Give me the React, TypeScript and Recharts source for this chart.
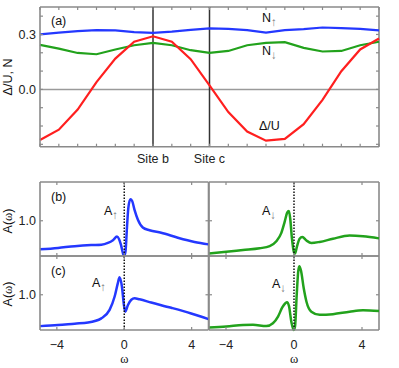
import React from "react";
import { LineChart, Line, XAxis, YAxis, ReferenceLine } from "recharts";

const FONT = "'Liberation Sans', Arial, Helvetica, sans-serif";
const SERIF = "'Liberation Serif', 'Times New Roman', serif";
const BORDER = "#8a8a8a";
const BLUE = "#2438ff";
const GREEN = "#22a21c";
const RED = "#ff1f1f";

// panel (a): quantities along the chain of sites
const siteIdx = [0, 1, 2, 3, 4, 5, 6, 7, 8, 9, 10, 11, 12, 13, 14, 15, 16, 17, 18];
const deltaU = [-0.276, -0.22, -0.11, 0.04, 0.168, 0.26, 0.29, 0.26, 0.165, 0.022, -0.124, -0.23, -0.28, -0.27, -0.19, -0.057, 0.099, 0.218, 0.278];
const nUp = [0.3, 0.31, 0.318, 0.324, 0.322, 0.313, 0.309, 0.315, 0.325, 0.333, 0.331, 0.324, 0.31, 0.324, 0.329, 0.338, 0.335, 0.331, 0.322];
const nDown = [0.243, 0.223, 0.199, 0.192, 0.218, 0.241, 0.254, 0.241, 0.214, 0.199, 0.21, 0.241, 0.254, 0.258, 0.227, 0.207, 0.21, 0.241, 0.26];
const siteLabels: Record<number, string> = { 6: "Site b", 9: "Site c" };
const yTicksA = [-0.3, -0.2, -0.1, 0, 0.1, 0.2, 0.3, 0.4];
const domainA: [number, number] = [-0.313, 0.45];

// panels (b), (c): spectral functions
const wTicks = [-4, 0, 4];
const aTicks = [1];
const domainW: [number, number] = [-5, 5];
const domainSpec: [number, number] = [0, 2.1];

const wBUp = [-5, -3.93, -2.94, -1.96, -1.36, -0.97, -0.67, -0.43, -0.3, -0.18, -0.04, 0.02, 0.08, 0.16, 0.24, 0.36, 0.47, 0.61, 0.81, 1.1, 1.5, 2.19, 3.18, 4.17, 5];
const aBUp = [0.19, 0.23, 0.28, 0.31, 0.32, 0.37, 0.45, 0.55, 0.47, 0.29, 0.03, 0.02, 0.15, 0.8, 1.35, 1.61, 1.56, 1.31, 1.03, 0.81, 0.73, 0.66, 0.52, 0.4, 0.33];

const wBDown = [-5, -3.98, -3, -2.02, -1.43, -1.04, -0.75, -0.55, -0.4, -0.3, -0.22, -0.12, 0, 0.06, 0.18, 0.33, 0.49, 0.73, 1.02, 1.51, 2.29, 3.27, 4.06, 5];
const aBDown = [0.07, 0.12, 0.17, 0.22, 0.28, 0.42, 0.65, 0.97, 1.23, 1.28, 1.05, 0.49, 0.1, 0.07, 0.28, 0.49, 0.54, 0.44, 0.37, 0.4, 0.49, 0.58, 0.56, 0.5];

const wCUp = [-5, -3.93, -2.94, -2.15, -1.36, -0.87, -0.57, -0.38, -0.28, -0.14, -0.02, 0.06, 0.22, 0.42, 0.61, 0.91, 1.6, 2.79, 3.97, 5];
const aCUp = [0.11, 0.14, 0.18, 0.21, 0.33, 0.57, 0.95, 1.33, 1.5, 1.24, 0.71, 0.52, 0.71, 0.86, 0.9, 0.87, 0.78, 0.63, 0.47, 0.31];

const wCDown = [-5, -3.98, -3, -2.41, -1.63, -1.24, -0.94, -0.69, -0.51, -0.41, -0.29, -0.16, -0.02, 0.06, 0.16, 0.25, 0.31, 0.41, 0.57, 0.73, 1.02, 1.51, 2.29, 3.27, 4.06, 5];
const aCDown = [0.07, 0.1, 0.14, 0.15, 0.11, 0.19, 0.38, 0.64, 0.76, 0.79, 0.67, 0.24, 0.0, 0.1, 1.0, 1.67, 1.81, 1.69, 1.19, 0.81, 0.52, 0.43, 0.45, 0.52, 0.56, 0.54];

// tick marks point into the plot on both opposite borders; label (if any) sits outside
function inTick(side: "left" | "bottom", margin: number, len: number, span: number, label?: (v: number) => string | null) {
  return (props: any) => {
    const { x, y, payload } = props;
    const text = label ? label(payload.value) : null;
    let l1: number[], l2: number[];
    if (side === "left") {
      const a = x + margin;
      const b = a + span;
      l1 = [a, y, a + len, y];
      l2 = [b, y, b - len, y];
    } else {
      const a = y - margin;
      const b = a - span;
      l1 = [x, a, x, a - len];
      l2 = [x, b, x, b + len];
    }
    return (
      <g>
        <line x1={l1[0]} y1={l1[1]} x2={l1[2]} y2={l1[3]} stroke={BORDER} strokeWidth={1.2} />
        <line x1={l2[0]} y1={l2[1]} x2={l2[2]} y2={l2[3]} stroke={BORDER} strokeWidth={1.2} />
        {text && (
          <text x={x} y={y} dy={side === "left" ? "0.355em" : "0.71em"} textAnchor={side === "left" ? "end" : "middle"}
            fontSize={12.5} fontFamily={FONT} fill="#222">
            {text}
          </text>
        )}
      </g>
    );
  };
}

const axisLine = { stroke: BORDER, strokeWidth: 1.6 };
const fmtA = (v: number) => (Math.abs(v - 0.3) < 1e-9 ? "0.3" : Math.abs(v) < 1e-9 ? "0.0" : null);
const fmtW = (v: number) => (v < 0 ? "\u2212" + Math.abs(v) : String(v));
const fmtOne = () => "1.0";

function PanelA() {
  const data = siteIdx.map((i, k) => ({ i, d: deltaU[k], up: nUp[k], dn: nDown[k] }));
  const W = 399, H = 175, top = 7, right = 20, left = 40, bottom = 28.3;
  const plotW = W - left - right;
  const plotH = H - top - bottom;
  return (
    <div style={{ position: "absolute", left: 0, top: 0 }}>
      <LineChart width={W} height={H} data={data} margin={{ top, right, bottom: 0, left: 0 }}>
        <XAxis dataKey="i" type="number" domain={[0, 18]} ticks={siteIdx} interval={0} height={bottom}
          tickSize={0} tickMargin={7} tickLine={false} axisLine={axisLine}
          tick={inTick("bottom", 7, 3, plotH, (v) => siteLabels[v] ?? null)} />
        <YAxis type="number" domain={domainA} ticks={yTicksA} interval={0} width={left}
          tickSize={0} tickMargin={4} tickLine={false} axisLine={axisLine} tick={inTick("left", 4, 3, plotW, fmtA)} />
        <ReferenceLine y={domainA[1]} stroke={BORDER} strokeWidth={1.6} />
        <ReferenceLine x={18} stroke={BORDER} strokeWidth={1.6} />
        <ReferenceLine y={0} stroke="#9a9a9a" strokeWidth={1.5} />
        <ReferenceLine x={6} stroke="#333" strokeWidth={1.5} />
        <ReferenceLine x={9} stroke="#333" strokeWidth={1.5} />
        <Line type="linear" dataKey="up" stroke={BLUE} strokeWidth={2.2} dot={false} isAnimationActive={false} />
        <Line type="linear" dataKey="dn" stroke={GREEN} strokeWidth={2.2} dot={false} isAnimationActive={false} />
        <Line type="linear" dataKey="d" stroke={RED} strokeWidth={2.2} dot={false} isAnimationActive={false} />
      </LineChart>
    </div>
  );
}

interface SpecProps {
  w: number[];
  a: number[];
  color: string;
  left: number;
  top: number;
  width: number;
  height: number;
  yLabels?: boolean;
  xLabels?: boolean;
}

function SpecPanel({ w, a, color, left, top, width, height, yLabels, xLabels }: SpecProps) {
  const data = w.map((v, i) => ({ w: v, a: a[i] }));
  const L = 40, R = 10, T = 10, B = 40;
  return (
    <div style={{ position: "absolute", left: left - L, top: top - T }}>
      <LineChart width={width + L + R} height={height + T + B} data={data} margin={{ top: T, right: R, bottom: 0, left: 0 }}>
        <XAxis dataKey="w" type="number" domain={domainW} ticks={wTicks} interval={0} height={B}
          tickSize={0} tickMargin={10.5} tickLine={false} axisLine={axisLine}
          tick={inTick("bottom", 10.5, 3, height, xLabels ? fmtW : undefined)} />
        <YAxis type="number" domain={domainSpec} ticks={aTicks} interval={0} width={L}
          tickSize={0} tickMargin={4} tickLine={false} axisLine={axisLine}
          tick={inTick("left", 4, 3, width, yLabels ? fmtOne : undefined)} />
        <ReferenceLine y={domainSpec[1]} stroke={BORDER} strokeWidth={1.6} />
        <ReferenceLine x={domainW[1]} stroke={BORDER} strokeWidth={1.6} />
        <Line type="monotone" dataKey="a" stroke={color} strokeWidth={2.5} dot={false} isAnimationActive={false} />
        <ReferenceLine x={0} stroke="#111" strokeWidth={1.5} strokeDasharray="1.5 1.5" />
      </LineChart>
    </div>
  );
}

function Label({ x, y, main, sub }: { x: number; y: number; main: string; sub: string }) {
  return (
    <text x={x} y={y} fontSize={12.5} fontFamily={FONT} fill="#111">
      {main}
      <tspan dy={4} fontSize={11.5} fill="#777">{sub}</tspan>
    </text>
  );
}

export default function App() {
  const txt = { fontSize: 12.5, fontFamily: FONT, fill: "#111" } as const;
  return (
    <div style={{ position: "absolute", left: 0, top: 0, width: 399, height: 368, background: "#fff" }}>
      <PanelA />
      <SpecPanel w={wBUp} a={aBUp} color={BLUE} left={40} top={182} width={168.5} height={74} yLabels />
      <SpecPanel w={wBDown} a={aBDown} color={GREEN} left={208.5} top={182} width={170} height={74} />
      <SpecPanel w={wCUp} a={aCUp} color={BLUE} left={40} top={256} width={168.5} height={74} yLabels xLabels />
      <SpecPanel w={wCDown} a={aCDown} color={GREEN} left={208.5} top={256} width={170} height={74} xLabels />
      <svg width={399} height={368} style={{ position: "absolute", left: 0, top: 0, pointerEvents: "none" }}>
        <text x={12} y={77} transform="rotate(-90 12 77)" textAnchor="middle" {...txt}>Δ/U, N</text>
        <text x={51} y={25} {...txt}>(a)</text>
        <Label x={262} y={22} main="N" sub="↑" />
        <Label x={262} y={55} main="N" sub="↓" />
        <text x={259} y={130} {...txt}>Δ/U</text>

        <text x={51} y={201} {...txt}>(b)</text>
        <text x={51} y={275} {...txt}>(c)</text>
        <Label x={104} y={215} main="A" sub="↑" />
        <Label x={262} y={214.5} main="A" sub="↓" />
        <Label x={92} y={287} main="A" sub="↑" />
        <Label x={272} y={288} main="A" sub="↓" />

        <text x={12} y={221} transform="rotate(-90 12 221)" textAnchor="middle" {...txt}>
          A(<tspan fontFamily={SERIF}>ω</tspan>)
        </text>
        <text x={12} y={294} transform="rotate(-90 12 294)" textAnchor="middle" {...txt}>
          A(<tspan fontFamily={SERIF}>ω</tspan>)
        </text>
        <text x={124.3} y={362.5} textAnchor="middle" {...txt} fontFamily={SERIF}>ω</text>
        <text x={294} y={362.5} textAnchor="middle" {...txt} fontFamily={SERIF}>ω</text>
      </svg>
    </div>
  );
}
